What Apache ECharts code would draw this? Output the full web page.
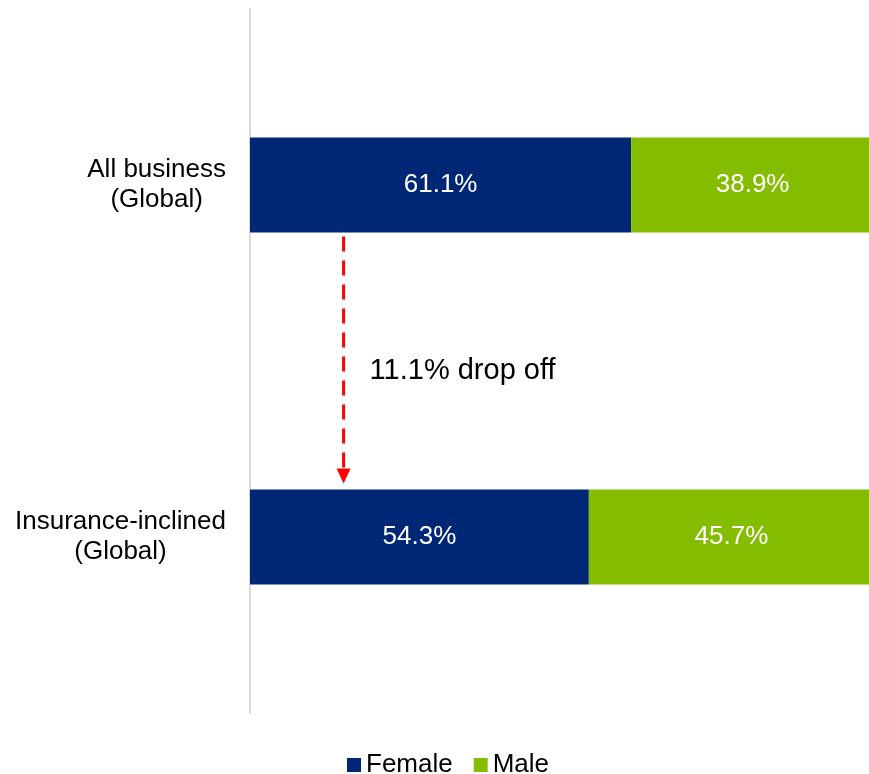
<!DOCTYPE html>
<html lang="en">
<head>
    <meta charset="utf-8">
    <title>Female / Male share</title>
    <script type="text/javascript" src="https://cdn.jsdelivr.net/npm/echarts@6/dist/echarts.min.js"></script>
    <style>
        html, body { margin: 0; padding: 0; background: #fff; overflow: hidden; }
        /* the plot runs a few px past the right edge, as in the original */
        #main { width: 874px; height: 774px; }
    </style>
</head>
<body>
<div id="main"></div>

<script>
    // data
    var categories = ['All business\n(Global)', 'Insurance-inclined\n(Global)'];
    var female = [61.1, 54.3];
    var male = [38.9, 45.7];
    // annotation: arrow sits at about 15% on the value axis
    var dropText = '11.1% drop off';
    var arrowAt = 15;

    var font = '"Liberation Sans", Arial, sans-serif';
    var chartDom = document.getElementById('main');
    var myChart = echarts.init(chartDom);
    var option;

    option = {
        animation: false,
        textStyle: { fontFamily: font },
        grid: { left: 250, top: 9, right: 0, height: 704 },
        legend: {
            top: 747,
            left: 342,
            icon: 'rect',
            itemWidth: 14,
            itemHeight: 14,
            itemGap: 21,
            textStyle: { fontSize: 26, color: '#000', fontFamily: font },
            data: ['Female', 'Male']
        },
        xAxis: {
            type: 'value',
            min: 0,
            max: 100,
            show: false
        },
        yAxis: {
            type: 'category',
            inverse: true,
            data: categories,
            axisLine: { lineStyle: { color: '#d9d9d9', width: 2 } },
            axisTick: { show: false },
            axisLabel: {
                margin: 24,
                align: 'right',
                formatter: function (v) {
                    return v.split('\n').map(function (s) { return '{c|' + s + '}'; }).join('\n');
                },
                rich: {
                    c: { fontSize: 26, lineHeight: 30, color: '#000', align: 'center', fontFamily: font }
                }
            }
        },
        series: [
            {
                name: 'Female',
                type: 'bar',
                stack: 'all',
                barWidth: 95,
                itemStyle: { color: '#002776' },
                label: {
                    show: true, position: 'inside', color: '#fff', fontSize: 26, fontFamily: font,
                    formatter: function (p) { return p.value.toFixed(1) + '%'; }
                },
                data: female
            },
            {
                name: 'Male',
                type: 'bar',
                stack: 'all',
                barWidth: 95,
                itemStyle: { color: '#84bd00' },
                label: {
                    show: true, position: 'inside', color: '#fff', fontSize: 26, fontFamily: font,
                    formatter: function (p) { return p.value.toFixed(1) + '%'; }
                },
                data: male
            }
        ]
    };
    myChart.setOption(option);

    // drop-off arrow between the two bars
    var x = myChart.convertToPixel({ xAxisIndex: 0 }, arrowAt);
    var y1 = myChart.convertToPixel({ yAxisIndex: 0 }, categories[0]) + 95 / 2 + 4;
    var y2 = myChart.convertToPixel({ yAxisIndex: 0 }, categories[1]) - 95 / 2 - 6;
    myChart.setOption({
        graphic: [
            {
                type: 'line',
                shape: { x1: x, y1: y1, x2: x, y2: y2 - 14 },
                style: { stroke: '#ff0000', lineWidth: 3, lineDash: [15, 9] }
            },
            {
                type: 'polygon',
                shape: { points: [[x - 7, y2 - 15], [x + 7, y2 - 15], [x, y2]] },
                style: { fill: '#ff0000' }
            },
            {
                type: 'text',
                x: x + 26,
                y: (y1 + y2) / 2 + 11,
                style: {
                    text: dropText,
                    fontSize: 29,
                    fontFamily: font,
                    fill: '#000',
                    verticalAlign: 'middle'
                }
            }
        ]
    });
</script>
</body>
</html>
